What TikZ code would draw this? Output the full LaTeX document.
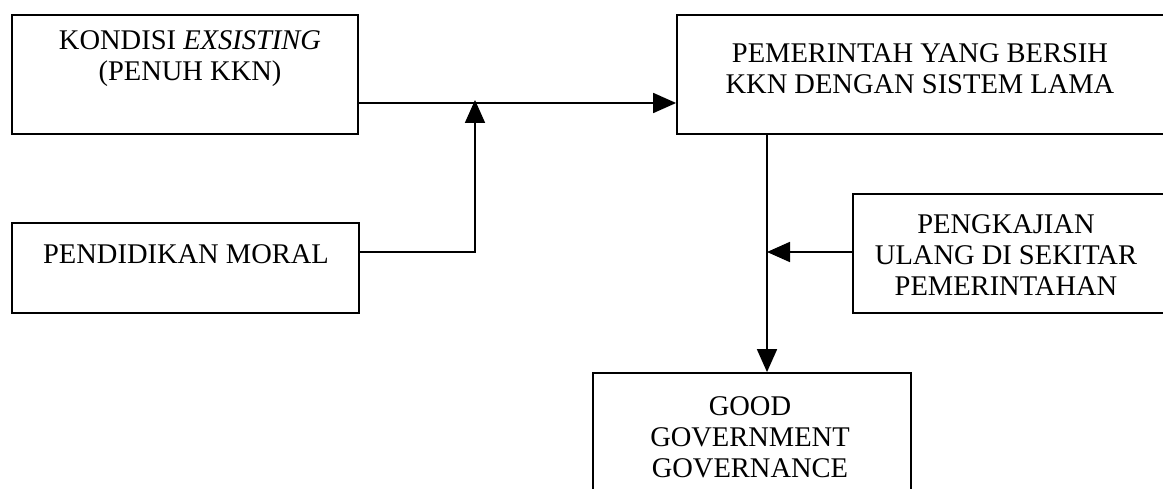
\documentclass[tikz,border=0pt]{standalone}
\usepackage{fontspec}
\setmainfont{Liberation Serif}
\usetikzlibrary{arrows.meta}
\tikzset{
  boxnode/.style={draw, line width=1.8pt, inner sep=0pt},
  txt/.style={align=center, inner sep=0pt, font=\fontsize{28.5}{31}\selectfont},
  conn/.style={line width=1.8pt},
  arr/.style={conn, -{Triangle[length=23pt,width=20pt]}}
}
\begin{document}
\begin{tikzpicture}[x=1pt,y=-1pt]
\useasboundingbox (0,0) rectangle (1163,489);
\clip (0,0) rectangle (1163,489);
% boxes
\node[boxnode, minimum width=346pt, minimum height=119pt] (b1) at (185,74.5) {};
\node[boxnode, minimum width=498pt, minimum height=119pt] (b2) at (926,74.5) {};
\node[boxnode, minimum width=347pt, minimum height=90pt] (b3) at (185.5,268) {};
\node[boxnode, minimum width=330pt, minimum height=119pt] (b4) at (1018,253.5) {};
\node[boxnode, minimum width=318pt, minimum height=140pt] (b5) at (752,443) {};
% texts
\node[txt] (t1) at (190,59) {KONDISI \textit{EXSISTING}\\(PENUH KKN)};
\node[txt] (t2) at (920,69) {PEMERINTAH YANG BERSIH\\KKN DENGAN SISTEM LAMA};
\node[txt] (t3) at (186,254) {PENDIDIKAN MORAL};
\node[txt] (t4) at (1006,255) {PENGKAJIAN\\ULANG DI SEKITAR\\PEMERINTAHAN};
\node[txt] (t5) at (750,437) {GOOD\\GOVERNMENT\\GOVERNANCE};
% connector coordinates
\coordinate (j1) at (475,103);
\coordinate (j2) at (767,252);
% connectors
\draw[arr] (b1.east |- j1) -- (b2.west |- j1);
\draw[conn] (b3.east |- j2) -- (475,252) -- (475,120);
\draw[arr] (475,140) -- ([yshift=3pt]j1);
\draw[arr] (j2 |- b2.south) -- (j2 |- b5.north);
\draw[arr] (b4.west |- j2) -- (j2);
\end{tikzpicture}
\end{document}
